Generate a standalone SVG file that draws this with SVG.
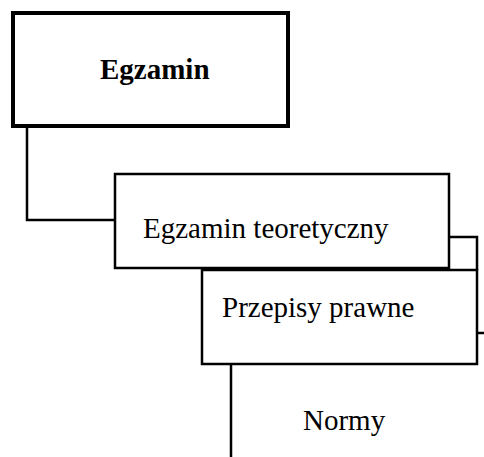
<svg xmlns="http://www.w3.org/2000/svg" width="484" height="457" viewBox="0 0 484 457">
<style>
.box{fill:#fff;stroke:#000;stroke-width:2.5}
.main{fill:#fff;stroke:#000;stroke-width:4}
.conn{fill:none;stroke:#000;stroke-width:2.5}
text{font-family:"Liberation Serif","Times New Roman",serif;font-size:29px;fill:#000}
.b{font-weight:bold}
</style>
<rect width="484" height="457" fill="#fff"/>
<g id="connectors">
<polyline class="conn" points="27,128 27,220 115,220"/>
<polyline class="conn" points="449,237 477,237 477,270"/>
<polyline class="conn" points="477,333 484,333"/>
<polyline class="conn" points="231,364 231,457"/>
</g>
<g id="egzamin">
<rect class="main" x="13" y="13" width="275" height="113"/>
<text class="b" x="100" y="79">Egzamin</text>
</g>
<g id="egzamin-teoretyczny">
<rect class="box" x="115" y="174" width="334" height="94"/>
<text x="143" y="238">Egzamin teoretyczny</text>
</g>
<g id="przepisy-prawne">
<rect class="box" x="202" y="270" width="275" height="94"/>
<text x="222" y="317">Przepisy prawne</text>
</g>
<g id="normy">
<text x="303" y="430">Normy</text>
</g>
</svg>
